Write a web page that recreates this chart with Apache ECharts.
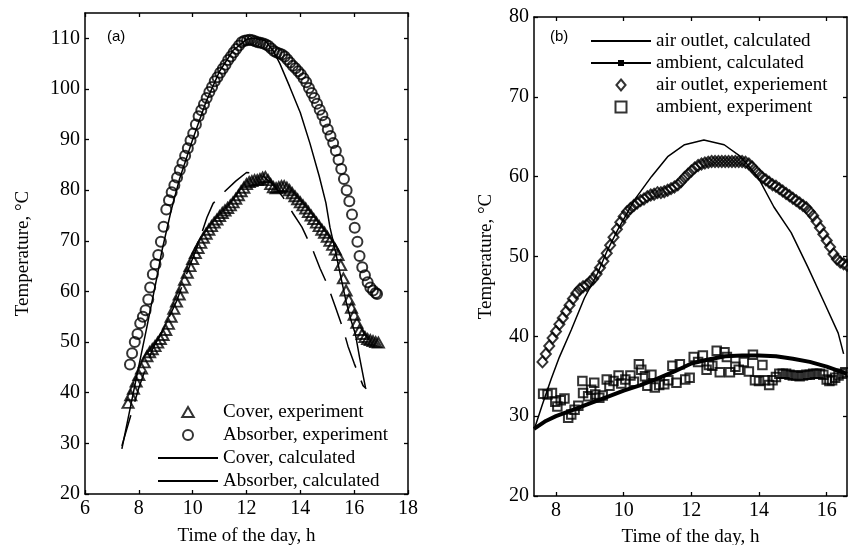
<!DOCTYPE html>
<html>
<head>
<meta charset="utf-8">
<script src="https://cdn.jsdelivr.net/npm/echarts@6/dist/echarts.min.js"></script>
<style>html,body{margin:0;padding:0;background:#fff}#chart{width:848px;height:545px}</style>
</head>
<body>
<div id="chart"></div>
<script>
// panel (a): cover / absorber temperatures, [hour, degC]
var coverExp = [[7.6,38.0],[7.7,39.5],[7.8,40.8],[7.9,42.2],[8.0,43.5],[8.1,44.8],[8.2,46.0],[8.3,47.2],[8.4,48.0],[8.5,48.6],
  [8.6,49.2],[8.7,49.9],[8.8,50.6],[8.9,51.4],[9.0,52.4],[9.1,53.6],[9.2,55.0],[9.3,56.6],[9.4,58.0],[9.5,59.4],
  [9.6,60.8],[9.7,62.3],[9.8,63.7],[9.9,65.0],[10.0,66.4],[10.1,67.6],[10.2,68.6],[10.3,69.6],[10.4,70.6],[10.5,71.4],
  [10.6,72.2],[10.7,72.9],[10.8,73.6],[10.9,74.2],[11.0,74.9],[11.1,75.5],[11.2,76.0],[11.3,76.5],[11.4,77.0],[11.5,77.6],
  [11.6,78.3],[11.7,79.0],[11.8,79.8],[11.9,80.5],[12.0,81.2],[12.1,81.6],[12.2,81.8],[12.3,82.0],[12.4,82.0],[12.5,82.2],
  [12.6,82.5],[12.7,82.6],[12.8,82.0],[12.9,81.2],[13.0,80.6],[13.1,80.4],[13.2,80.6],[13.3,80.8],[13.4,80.8],[13.5,80.5],
  [13.6,80.0],[13.7,79.4],[13.8,78.8],[13.9,78.2],[14.0,77.6],[14.1,77.0],[14.2,76.4],[14.3,75.7],[14.4,75.0],[14.5,74.3],
  [14.6,73.6],[14.7,72.9],[14.8,72.2],[14.9,71.6],[15.0,70.8],[15.1,70.0],[15.2,69.2],[15.3,68.3],[15.4,67.2],[15.5,65.2],
  [15.6,62.6],[15.7,60.2],[15.8,58.4],[15.9,56.8],[16.0,55.4],[16.1,53.8],[16.2,52.4],[16.3,51.6],[16.4,51.0],[16.5,50.6],
  [16.6,50.4],[16.7,50.2],[16.8,50.0],[16.9,49.9]];
var absorberExp = [[7.67,45.6],[7.75,47.8],[7.85,50.0],[7.95,51.6],[8.05,53.7],[8.15,55.0],[8.25,56.3],[8.35,58.4],[8.42,60.8],[8.52,63.4],
  [8.62,65.4],[8.72,67.2],[8.82,69.8],[8.92,72.8],[9.02,76.2],[9.12,78.0],[9.22,79.6],[9.32,81.0],[9.42,82.5],[9.52,84.0],
  [9.62,85.4],[9.72,86.8],[9.82,88.3],[9.92,89.8],[10.02,91.2],[10.12,93.0],[10.22,94.6],[10.32,95.8],[10.42,97.0],[10.52,98.2],
  [10.62,99.4],[10.72,100.4],[10.82,101.5],[10.92,102.3],[11.02,103.2],[11.12,104.0],[11.22,104.8],[11.32,105.7],[11.42,106.4],[11.52,107.2],
  [11.62,107.9],[11.72,108.6],[11.82,109.2],[11.92,109.5],[12.02,109.6],[12.12,109.7],[12.22,109.6],[12.32,109.4],[12.42,109.2],[12.52,109.1],
  [12.62,109.0],[12.72,108.8],[12.82,108.5],[12.92,108.0],[13.02,107.5],[13.12,107.2],[13.22,107.0],[13.32,106.8],[13.42,106.4],[13.52,105.8],
  [13.62,105.2],[13.72,104.6],[13.82,104.1],[13.92,103.5],[14.02,102.9],[14.12,102.1],[14.22,101.3],[14.32,100.2],[14.42,99.2],[14.52,98.2],
  [14.62,97.1],[14.72,95.9],[14.82,94.8],[14.92,93.5],[15.02,92.0],[15.12,90.7],[15.22,89.3],[15.32,87.8],[15.42,86.0],[15.52,84.2],
  [15.62,82.2],[15.72,80.0],[15.82,77.8],[15.92,75.2],[16.02,72.6],[16.12,69.8],[16.2,67.0],[16.3,64.8],[16.4,63.2],[16.5,61.8],
  [16.6,60.8],[16.7,60.2],[16.8,59.7],[16.85,59.5]];
var coverCalc = [[7.37,28.9],[7.7,37.5],[8.0,45.3],[8.3,53.0],[8.5,58.3],[8.71,63.8],[8.86,68.1],[9.2,76.0],[9.5,82.0],[10.0,90.0],
  [10.5,97.5],[11.0,103.5],[11.5,107.6],[12.0,109.8],[12.3,110.0],[12.7,109.5],[13.0,107.5],[13.24,105.0],[13.6,100.5],[14.0,95.3],
  [14.36,89.2],[14.7,82.8],[14.95,77.5],[15.1,72.7],[15.3,68.0],[15.5,63.0],[15.7,58.0],[15.9,54.0],[16.05,51.5],[16.2,47.0],[16.42,41.0]];
var absorberCalc = [[7.37,29.5],[7.7,35.5],[8.0,41.0],[8.5,48.5],[9.0,53.5],[9.42,58.3],[9.7,62.5],[10.16,68.7],[10.53,74.6],[10.76,77.4],
  [11.2,79.8],[11.6,81.8],[12.0,83.5],[12.5,83.3],[13.0,81.0],[13.36,78.6],[13.73,75.4],[14.06,72.7],[14.47,68.1],[14.73,64.6],
  [15.0,61.4],[15.3,57.0],[15.6,52.4],[15.77,49.2],[16.0,45.8],[16.33,41.4],[16.45,40.8]];

// panel (b): air outlet / ambient temperatures, [hour, degC]
var outletCalc = [[7.36,28.4],[7.6,31.5],[7.86,34.7],[8.1,37.4],[8.45,40.8],[8.84,44.8],[9.23,47.9],[9.5,50.6],[9.82,53.3],[10.32,57.1],
  [10.82,60.0],[11.3,62.5],[11.8,64.0],[12.37,64.6],[12.97,64.0],[13.46,62.5],[13.96,60.0],[14.44,56.2],[14.95,53.0],[15.44,48.7],
  [15.93,44.2],[16.34,40.4],[16.5,37.8]];
var ambientCalc = [[7.35,28.4],[7.7,29.4],[8.0,30.0],[8.5,30.8],[9.0,31.6],[9.5,32.4],[10.0,33.2],[10.5,33.9],[11.0,34.7],[11.5,35.6],
  [12.0,36.6],[12.5,37.1],[13.0,37.5],[13.5,37.6],[14.0,37.6],[14.5,37.5],[15.0,37.2],[15.5,36.8],[16.0,36.2],[16.6,35.3]];
var outletExp = [[7.6,36.8],[7.7,37.8],[7.8,38.8],[7.9,39.8],[8.0,40.6],[8.1,41.5],[8.2,42.3],[8.3,43.1],[8.4,43.9],[8.5,44.7],
  [8.6,45.4],[8.7,45.9],[8.8,46.2],[8.9,46.4],[9.0,46.8],[9.1,47.2],[9.2,47.8],[9.3,48.6],[9.4,49.4],[9.5,50.4],
  [9.6,51.4],[9.7,52.4],[9.8,53.4],[9.9,54.3],[10.0,55.0],[10.1,55.6],[10.2,56.0],[10.3,56.4],[10.4,56.7],[10.5,57.0],
  [10.6,57.2],[10.7,57.5],[10.8,57.7],[10.9,57.8],[11.0,58.0],[11.1,58.0],[11.2,58.1],[11.3,58.3],[11.4,58.5],[11.5,58.7],
  [11.6,59.0],[11.7,59.4],[11.8,59.9],[11.9,60.3],[12.0,60.7],[12.1,61.1],[12.2,61.4],[12.3,61.6],[12.4,61.7],[12.5,61.8],
  [12.6,61.9],[12.7,61.9],[12.8,61.9],[12.9,61.9],[13.0,61.9],[13.1,61.9],[13.2,61.9],[13.3,61.9],[13.4,61.9],[13.5,61.9],
  [13.6,61.8],[13.7,61.6],[13.8,61.2],[13.9,60.7],[14.0,60.3],[14.1,59.9],[14.2,59.6],[14.3,59.3],[14.4,59.0],[14.5,58.8],
  [14.6,58.5],[14.7,58.2],[14.8,57.9],[14.9,57.6],[15.0,57.3],[15.1,57.0],[15.2,56.7],[15.3,56.4],[15.4,56.1],[15.5,55.6],
  [15.6,55.1],[15.7,54.4],[15.8,53.6],[15.9,52.8],[16.0,52.0],[16.1,51.2],[16.2,50.3],[16.3,49.7],[16.4,49.3],[16.5,49.1],[16.6,48.9]];
var ambientExp = [[7.62,32.8],[7.75,32.7],[7.88,32.9],[7.98,31.8],[8.04,31.2],[8.14,32.0],[8.25,32.2],[8.36,29.8],[8.45,30.2],[8.55,30.8],
  [8.66,31.3],[8.78,34.4],[8.8,32.9],[8.95,32.5],[9.04,33.3],[9.13,34.2],[9.16,32.7],[9.28,32.3],[9.38,32.6],[9.5,34.6],
  [9.58,33.8],[9.7,34.4],[9.85,35.1],[9.93,34.1],[10.05,34.6],[10.2,35.1],[10.3,34.3],[10.45,36.5],[10.52,35.8],[10.63,35.0],
  [10.7,33.8],[10.82,35.2],[10.92,33.6],[11.05,33.9],[11.2,34.0],[11.32,34.5],[11.44,36.3],[11.56,34.2],[11.66,36.5],[11.82,34.6],
  [11.95,34.8],[12.07,37.4],[12.2,36.8],[12.34,37.6],[12.45,35.8],[12.52,36.4],[12.62,36.3],[12.75,38.2],[12.84,35.5],[12.98,38.0],
  [13.05,37.4],[13.14,35.5],[13.3,36.2],[13.4,35.8],[13.55,36.8],[13.7,35.6],[13.82,37.7],[13.88,34.5],[14.0,34.4],[14.1,36.4],
  [14.18,34.5],[14.3,33.9],[14.4,34.5],[14.5,34.9],[14.6,35.3],[14.7,35.3],[14.8,35.3],[14.9,35.2],[15.0,35.1],[15.1,35.1],
  [15.2,35.0],[15.3,35.1],[15.4,35.2],[15.5,35.2],[15.6,35.3],[15.7,35.3],[15.8,35.3],[15.9,35.2],[16.0,34.6],[16.08,34.4],
  [16.16,34.5],[16.25,34.8],[16.35,35.1],[16.45,35.3],[16.55,35.5]];

// tick values
var xTicksA = [6, 8, 10, 12, 14, 16, 18];
var yTicksA = [20, 30, 40, 50, 60, 70, 80, 90, 100, 110];
var xTicksB = [8, 10, 12, 14, 16];
var yTicksB = [20, 30, 40, 50, 60, 70, 80];

var FONT = '"Liberation Serif", "Times New Roman", serif';
var LINE_ICON = 'path://M0,0H60V2H0Z';
var DOT_ICON = 'path://M0,2H27V0H33V2H60V4H33V6H27V4H0Z';

function axis(grid, pos, min, max, ticks, withLabel, name, gap) {
    return {
        type: 'value', gridIndex: grid, position: pos, min: min, max: max,
        axisLine: {show: true, onZero: false, lineStyle: {color: '#000', width: 1.5}},
        axisTick: {show: true, inside: true, length: 4, customValues: ticks, lineStyle: {color: '#000', width: 1.3}},
        axisLabel: {show: withLabel, customValues: ticks, margin: 5, color: '#000', fontFamily: FONT, fontSize: 20},
        splitLine: {show: false},
        name: name || '', nameLocation: 'middle', nameGap: gap || 30,
        nameTextStyle: {color: '#000', fontFamily: FONT, fontSize: 19}
    };
}

function markers(name, data, x, y, symbol, size) {
    return {
        name: name, type: 'scatter', xAxisIndex: x, yAxisIndex: y, data: data,
        symbol: symbol, symbolSize: size, silent: true,
        itemStyle: {color: 'rgba(0,0,0,0)', borderColor: '#000', borderWidth: 2}
    };
}

function curve(name, data, x, y, width, type, sym) {
    return {
        name: name, type: 'line', xAxisIndex: x, yAxisIndex: y, data: data,
        symbol: sym || 'none', showSymbol: false, silent: true,
        itemStyle: {color: '#000'},
        lineStyle: {color: '#000', width: width, type: type || 'solid'}
    };
}

var legendText = {color: '#000', fontFamily: FONT, fontSize: 19, lineHeight: 20};

var chart = echarts.init(document.getElementById('chart'));
chart.setOption({
    animation: false,
    backgroundColor: '#fff',
    grid: [
        {left: 85, top: 13, right: 440, bottom: 51, outerBoundsMode: 'none'},
        {left: 534, top: 17, right: 1, bottom: 49, outerBoundsMode: 'none'}
    ],
    xAxis: [
        axis(0, 'bottom', 6, 18, xTicksA, true, 'Time of the day, h', 33),
        axis(0, 'top', 6, 18, xTicksA, false),
        axis(1, 'bottom', 7.35, 16.6, xTicksB, true, 'Time of the day, h', 32),
        axis(1, 'top', 7.35, 16.6, xTicksB, false)
    ],
    yAxis: [
        axis(0, 'left', 20, 115, yTicksA, true, 'Temperature, \u00B0C', 52),
        axis(0, 'right', 20, 115, yTicksA, false),
        axis(1, 'left', 20, 80, yTicksB, true, 'Temperature, \u00B0C', 38),
        axis(1, 'right', 20, 80, yTicksB, false)
    ],
    legend: [
        {
            orient: 'vertical', left: 153, top: 397, itemWidth: 60, itemHeight: 10, itemGap: 3,
            symbolKeepAspect: true, selectedMode: false, textStyle: legendText,
            data: [
                {name: 'Cover, experiment', icon: 'path://M5,0L10,8.66L0,8.66Z'},
                {name: 'Absorber, experiment', icon: 'circle'},
                {name: 'Cover, calculated', icon: LINE_ICON},
                {name: 'Absorber, calculated', icon: LINE_ICON}
            ]
        },
        {
            orient: 'vertical', left: 586, top: 26, itemWidth: 60, itemHeight: 11, itemGap: 2,
            symbolKeepAspect: true, selectedMode: false, textStyle: legendText,
            data: [
                {name: 'air outlet, calculated', icon: LINE_ICON},
                {name: 'ambient, calculated', icon: DOT_ICON},
                {name: 'air outlet, experiement', icon: 'path://M5,0L10,6L5,12L0,6Z'},
                {name: 'ambient, experiment', icon: 'path://M0,0H9V9H0Z'}
            ]
        }
    ],
    graphic: [
        {type: 'text', left: 107, top: 29, style: {text: '(a)', fill: '#000', font: '15px "Liberation Sans", Arial, sans-serif'}},
        {type: 'text', left: 550, top: 29, style: {text: '(b)', fill: '#000', font: '15px "Liberation Sans", Arial, sans-serif'}}
    ],
    series: [
        curve('Cover, calculated', coverCalc, 0, 0, 1.5),
        curve('Absorber, calculated', absorberCalc, 0, 0, 1.5, [32, 14]),
        markers('Cover, experiment', coverExp, 0, 0, 'triangle', [11, 10]),
        markers('Absorber, experiment', absorberExp, 0, 0, 'circle', 10),
        curve('air outlet, calculated', outletCalc, 2, 2, 1.5),
        curve('ambient, calculated', ambientCalc, 2, 2, 4, 'solid', 'circle'),
        markers('air outlet, experiement', outletExp, 2, 2, 'diamond', [10, 11]),
        markers('ambient, experiment', ambientExp, 2, 2, 'rect', 8.5)
    ]
});
</script>
</body>
</html>
